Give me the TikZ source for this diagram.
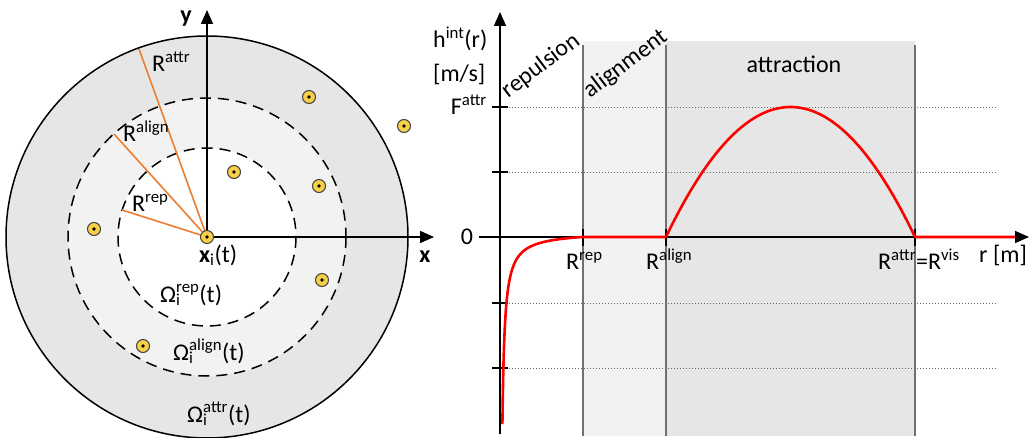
\documentclass[tikz,border=0pt]{standalone}
\usepackage{fontspec}
\setmainfont{Carlito}
\usetikzlibrary{arrows.meta}
\definecolor{zoneA}{HTML}{E6E6E6}
\definecolor{zoneB}{HTML}{F2F2F2}
\definecolor{radorange}{HTML}{ED7D31}
\definecolor{agentyellow}{HTML}{F7D04A}
\definecolor{zoneline}{HTML}{707070}
\newcommand\supsub[2]{\rlap{\textsubscript{#2}}\textsuperscript{#1}}
\begin{document}
\begin{tikzpicture}[x=1pt,y=-1pt,
  font=\fontsize{24}{28}\selectfont,
  axisline/.style={line width=1.6pt,-{Triangle[length=14pt,width=12pt]}},
  ring/.style={line width=1.5pt},
  dashring/.style={line width=1.5pt,dash pattern=on 11pt off 7pt},
  radius line/.style={radorange,line width=1.6pt},
  agent/.style={circle,draw=black!75,line width=1pt,fill=agentyellow,
    minimum size=13pt,inner sep=0pt,
    path picture={\fill[black] (path picture bounding box.center) circle (1.8pt);}},
  lbl/.style={inner sep=0pt},
  zoneedge/.style={zoneline,line width=1.5pt},
  gridline/.style={black!60,line width=0.8pt,dash pattern=on 1pt off 2pt},
  tick/.style={black,line width=1.3pt},
  curve/.style={red,line width=2.6pt,line join=round}]
\useasboundingbox (0,0) rectangle (1033,438);

% ---------------- left panel ----------------
\coordinate (c) at (207,237);
\fill[zoneA,draw=black,ring] (c) circle (201);
\fill[zoneB] (c) circle (139);
\draw[dashring] (c) circle (139);
\fill[white] (c) circle (89);
\draw[dashring] (c) circle (89);

\coordinate (yend) at (207,10);
\coordinate (xend) at (434,237);
\draw[axisline] (c) -- (yend);
\draw[axisline] (c) -- (xend);

\coordinate (rattrEnd) at (139,49);
\coordinate (ralignEnd) at (114,134);
\coordinate (rrepEnd) at (122,210);
\draw[radius line] (c) -- (rattrEnd);
\draw[radius line] (c) -- (ralignEnd);
\draw[radius line] (c) -- (rrepEnd);

\node[agent] (xi) at (c) {};
\node[agent] (a1) at (309,97) {};
\node[agent] (a2) at (404,126) {};
\node[agent] (a3) at (234,172) {};
\node[agent] (a4) at (319,186) {};
\node[agent] (a5) at (94,229) {};
\node[agent] (a6) at (322,280) {};
\node[agent] (a7) at (143,346) {};

\node[lbl,anchor=base] (ylab) at (186,23) {\bfseries y};
\node[lbl,anchor=base] (xlab) at (425,263) {\bfseries x};
\node[lbl,anchor=base west] (lRattr) at (152,72) {R\textsuperscript{attr}};
\node[lbl,anchor=base west] (lRalign) at (123,142) {R\textsuperscript{align}};
\node[lbl,anchor=base west] (lRrep) at (132,212) {R\textsuperscript{rep}};
\node[lbl,anchor=base west] (lxi) at (199,262) {\textbf{x}\textsubscript{i}(t)};
\node[lbl,anchor=base west] (lOrep) at (160,302) {Ω\supsub{rep}{i}(t)};
\node[lbl,anchor=base west] (lOalign) at (173,360) {Ω\supsub{align}{i}(t)};
\node[lbl,anchor=base west] (lOattr) at (187,422) {Ω\supsub{attr}{i}(t)};

% ---------------- right panel ----------------
\fill[zoneB] (583,41) rectangle (666,436);
\fill[zoneA] (666,41) rectangle (915,436);
\draw[zoneedge] (583,45) -- (583,436);
\draw[zoneedge] (666,45) -- (666,436);
\draw[zoneedge] (915,45) -- (915,436);

\foreach \yy in {107,172,303,368}{
  \draw[gridline] (509,\yy) -- (998,\yy);
  \draw[tick] (492,\yy) -- (508,\yy);
}

\coordinate (o) at (500,237);
\coordinate (hyTop) at (500,12);
\coordinate (hyBot) at (500,434);
\coordinate (hxLeft) at (479,237);
\coordinate (hxEnd) at (1029,237);
\draw[axisline] (hyBot) -- (hyTop);
\draw[axisline] (hxLeft) -- (hxEnd);
\foreach \xx in {583,666,915}{
  \draw[tick] (\xx,229) -- (\xx,246);
}

% red interaction curve
\draw[curve] plot[domain=0.875:4.419,samples=90,smooth] ({500+exp(\x)},{237+462*exp(-\x)-5.57})
  -- (666,237)
  plot[domain=666:915,samples=60,smooth] (\x,{237-130*(1-((\x-790.5)/124.5)^2)})
  -- (1015,237);

\node[lbl,anchor=base west] (lh) at (433,48) {h\textsuperscript{int}(r)};
\node[lbl,anchor=base west] (lunit) at (433,82) {[m/s]};
\node[lbl,anchor=base east] (lF) at (487,115) {F\textsuperscript{attr}};
\node[lbl,anchor=base] (lzero) at (467,245) {0};
\node[lbl,anchor=base west] (lrrep) at (566,270) {R\textsuperscript{rep}};
\node[lbl,anchor=base west] (lralign) at (646,270) {R\textsuperscript{align}};
\node[lbl,anchor=base west] (lrattr) at (878,270) {R\textsuperscript{attr}=R\textsuperscript{vis}};
\node[lbl,anchor=base west] (lr) at (979,262) {r [m]};
\node[lbl,anchor=base] (latt) at (794,73) {attraction};
\node[lbl,rotate=37] (lrep) at (541,66) {repulsion};
\node[lbl,rotate=37] (lali) at (626,64) {alignment};
\end{tikzpicture}
\end{document}
